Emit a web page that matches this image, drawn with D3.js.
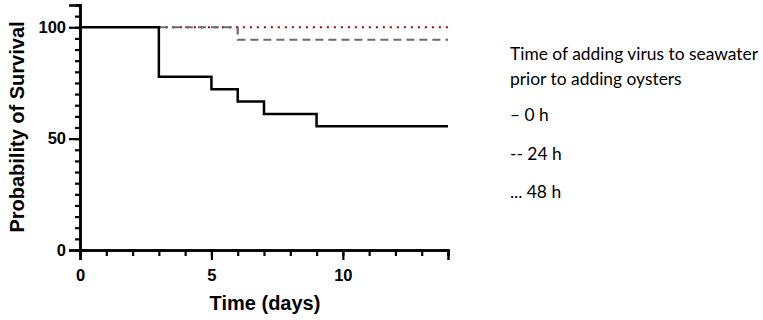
<!DOCTYPE html>
<html>
<head>
<meta charset="utf-8">
<script src="https://cdn.jsdelivr.net/npm/d3@7"></script>
<style>
  body { margin: 0; background: #fff; }
  svg text { fill: #000; }
</style>
</head>
<body>
<svg id="chart" width="763" height="320"></svg>
<script>
// survival curves (day, % survival) - step after
const days0h  = [0, 3, 5, 6, 7, 9, 14];
const surv0h  = [100, 77.8, 72.2, 66.7, 61.1, 55.6, 55.6];
const days24h = [3, 6, 14];
const surv24h = [100, 94.4, 94.4];
const days48h = [3, 14];
const surv48h = [100, 100];

const xTicks = [0, 5, 10];
const yTicks = [0, 50, 100];

const legendTitle = ["Time of adding virus to seawater", "prior to adding oysters"];
const legendItems = ["\u2013 0 h", "-- 24 h", "... 48 h"];

const svg = d3.select("#chart");

const x = d3.scaleLinear().domain([0, 14]).range([80, 448]);
const y = d3.scaleLinear().domain([0, 110]).range([250, 5]);

const line = d3.line()
  .x(d => x(d[0]))
  .y(d => y(d[1]))
  .curve(d3.curveStepAfter);

// 48 h - red dotted
svg.append("path")
  .datum(d3.zip(days48h, surv48h))
  .attr("d", line)
  .attr("fill", "none")
  .attr("stroke", "#a00000")
  .attr("stroke-width", 2.2)
  .attr("stroke-dasharray", "2,5");

// 24 h - grey dashed
svg.append("path")
  .datum(d3.zip(days24h, surv24h))
  .attr("d", line)
  .attr("fill", "none")
  .attr("stroke", "#6b6b6b")
  .attr("stroke-width", 2.2)
  .attr("stroke-dasharray", "8,5");

// 0 h - black solid
svg.append("path")
  .datum(d3.zip(days0h, surv0h))
  .attr("d", line)
  .attr("fill", "none")
  .attr("stroke", "#000")
  .attr("stroke-width", 2.5);

// axes
const axisFont = "'Liberation Sans', Arial, sans-serif";

const yAxisMinor = d3.axisLeft(y).tickValues(d3.range(0, 111, 5)).tickSize(5).tickFormat("");
const yAxisMajor = d3.axisLeft(y).tickValues(yTicks).tickSize(11).tickPadding(3);
const xAxisMinor = d3.axisBottom(x).tickValues(d3.range(0, 15, 1)).tickSize(6).tickFormat("");
const xAxisMajor = d3.axisBottom(x).tickValues(xTicks).tickSize(10).tickPadding(9);

[yAxisMinor, yAxisMajor].forEach(a => {
  svg.append("g").attr("transform", "translate(80,0)").call(a);
});
[xAxisMinor, xAxisMajor].forEach(a => {
  svg.append("g").attr("transform", "translate(0,250)").call(a);
});

svg.selectAll(".domain").attr("stroke", "#000").attr("stroke-width", 2.5);
svg.selectAll(".tick line").attr("stroke", "#000").attr("stroke-width", 2.2);
svg.selectAll(".tick text")
  .style("font-family", axisFont)
  .style("font-weight", "bold")
  .style("font-size", "16.5px")
  .attr("fill", "#000");

// axis titles
svg.append("text")
  .attr("transform", "translate(24,127) rotate(-90)")
  .attr("text-anchor", "middle")
  .style("font-family", axisFont)
  .style("font-weight", "bold")
  .style("font-size", "20px")
  .text("Probability of Survival");

svg.append("text")
  .attr("x", 265)
  .attr("y", 310)
  .attr("text-anchor", "middle")
  .style("font-family", axisFont)
  .style("font-weight", "bold")
  .style("font-size", "20px")
  .text("Time (days)");

// legend
const legend = svg.append("g").attr("transform", "translate(510,0)")
  .style("font-family", "Lato, 'Open Sans', sans-serif")
  .style("font-size", "17.4px");

legend.selectAll("text.title")
  .data(legendTitle)
  .join("text")
  .attr("class", "title")
  .attr("y", (d, i) => 60 + i * 25)
  .text(d => d);

legend.selectAll("text.item")
  .data(legendItems)
  .join("text")
  .attr("class", "item")
  .attr("y", (d, i) => 121 + i * 38.5)
  .text(d => d);
</script>
</body>
</html>
